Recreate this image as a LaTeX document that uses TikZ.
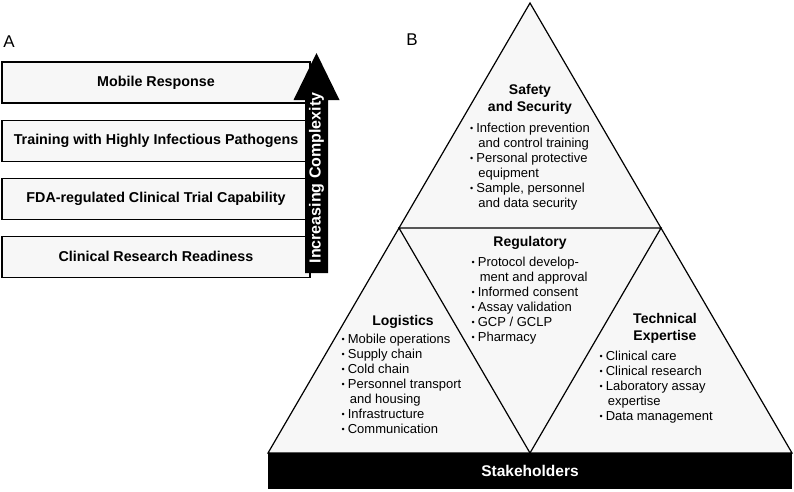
\documentclass[tikz,border=0pt]{standalone}
\usepackage{fontspec}
\setmainfont{Liberation Sans}
\usepackage{tikz}
\usetikzlibrary{positioning}
\newcommand{\bul}{\raisebox{0.8pt}{\small\textbullet}}

\begin{document}
\begin{tikzpicture}[x=1pt,y=-1pt, stagebox/.style = {draw=black, line width=1.1pt, fill=gray!6, minimum width=308pt, minimum height=41pt, inner sep=0pt, font=\fontsize{14.3}{17}\selectfont\bfseries}]
					\tikzset{head/.style={inner sep=0pt, align=center, font=\fontsize{14}{17}\selectfont\bfseries}}
					\tikzset{list/.style={anchor=base west, inner sep=0pt, font=\fontsize{13}{15}\selectfont}}
					\tikzset{tri/.style={draw=black, line width=1.2pt, line join=miter}}

					\useasboundingbox (0,0) rectangle (794,491);

					% A
					\node (la) at (9,42) {\fontsize{17}{20}\selectfont A};
					\node[stagebox] (mob) at (156,82.5) {Mobile Response};
					\node[stagebox, below=16pt of mob] (train) {Training with Highly Infectious Pathogens};
					\node[stagebox, below=16pt of train] (fda) {FDA-regulated Clinical Trial Capability};
					\node[stagebox, below=16pt of fda] (ready) {Clinical Research Readiness};

					\fill (305,273) -- (305,100) -- (293.5,100) -- (316.5,53) -- (339.5,100) -- (328,100) -- (328,273) -- cycle;
					\node[rotate=90, text=white, inner sep=0pt, font=\fontsize{16}{18}\selectfont\bfseries] (incr) at (316.5,178) {Increasing Complexity};

					% B
					\node (lb) at (412,40) {\fontsize{17}{20}\selectfont B};
					\coordinate (top) at (530,3);
					\coordinate (bl) at (268,453);
					\coordinate (br) at (792,453);
					\coordinate (ml) at (399,228);
					\coordinate (mr) at (661,228);
					\coordinate (mb) at (530,453);
					\draw[tri, fill=gray!6] (top) -- (bl) -- (br) -- cycle;
					\draw[tri] (ml) -- (mr) -- (mb) -- cycle;

					\node[fill=black, text=white, minimum width=524pt, minimum height=36pt, inner sep=0pt, anchor=north, font=\fontsize{15.5}{18}\selectfont\bfseries] (stake) at (530,453) {Stakeholders};

					\node[head] (safe) at (530,99) {Safety\\and Security};
					\node[list] (safelist) at (470,132.5) {\begin{tabular}[t]{@{}l@{\hspace{3pt}}l@{}}
						\bul & Infection prevention\\
						 & \hspace{2pt}and control training\\
						\bul & Personal protective\\
						 & \hspace{2pt}equipment\\
						\bul & Sample, personnel\\
						 & \hspace{2pt}and data security
					\end{tabular}};

					\node[head] (reg) at (530,243) {Regulatory};
					\node[list] (reglist) at (471.5,266.5) {\begin{tabular}[t]{@{}l@{\hspace{3pt}}l@{}}
						\bul & Protocol develop-\\
						 & \hspace{2pt}ment and approval\\
						\bul & Informed consent\\
						\bul & Assay validation\\
						\bul & GCP / GCLP\\
						\bul & Pharmacy
					\end{tabular}};

					\node[head] (log) at (403,322) {Logistics};
					\node[list] (loglist) at (341.5,343.5) {\begin{tabular}[t]{@{}l@{\hspace{3pt}}l@{}}
						\bul & Mobile operations\\
						\bul & Supply chain\\
						\bul & Cold chain\\
						\bul & Personnel transport\\
						 & \hspace{2pt}and housing\\
						\bul & Infrastructure\\
						\bul & Communication
					\end{tabular}};

					\node[head] (tech) at (665,328) {Technical\\Expertise};
					\node[list] (techlist) at (599.5,360.5) {\begin{tabular}[t]{@{}l@{\hspace{3pt}}l@{}}
						\bul & Clinical care\\
						\bul & Clinical research\\
						\bul & Laboratory assay\\
						 & \hspace{2pt}expertise\\
						\bul & Data management
					\end{tabular}};

				\end{tikzpicture}
\end{document}
